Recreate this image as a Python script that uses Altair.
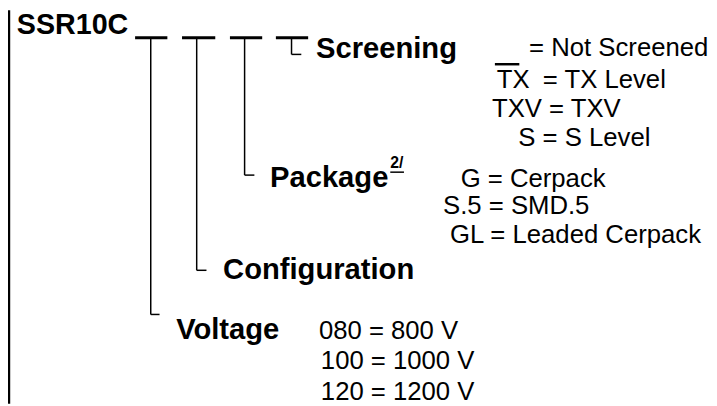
import altair as alt
import pandas as pd

# ---- content (reference pixel layout, 717 x 406) ----
part_text = ["SSR10C"]
part_x = [9]
part_y = [29]

field_names = ["Screening", "Package", "Configuration", "Voltage"]
field_x = [315, 268, 220, 172]
field_y = [54, 185, 279, 340]

note_text = ["2/"]
note_x = [391]
note_y = [166]

option_text = [
    "= Not Screened", "TX", "= TX Level", "TXV = TXV", "S = S Level",
    "G = Cerpack", "S.5 = SMD.5", "GL = Leaded Cerpack",
    "080 = 800 V", "100 = 1000 V", "120 = 1200 V",
]
option_x = [533, 500, 547, 495, 522, 463, 445, 452, 318, 320, 320]
option_y = [52, 84, 84, 114, 143, 185, 213, 242, 340, 371, 402]

# blanks of the part number (thick bars) + the "not screened" blank + note underline
blank_x1 = [130, 178, 227, 274, 498, 391]
blank_x2 = [163, 212, 260, 307, 523, 405]
blank_y = [33, 33, 33, 33, 60, 170]
blank_w = [3, 3, 3, 3, 2.5, 1.5]

# leader lines (vertical then short horizontal foot) + left border
lead_x1 = [146, 146, 193, 193, 242, 242, 290, 290, 1]
lead_x2 = [146, 155, 193, 203, 242, 252, 290, 300, 1]
lead_y1 = [33, 315, 33, 270, 33, 173, 33, 50, 5]
lead_y2 = [315, 315, 270, 270, 173, 173, 50, 50, 406]
lead_w = [1.5, 1.5, 1.5, 1.5, 1.5, 1.5, 1.5, 1.5, 2.5]

FONT = "Liberation Sans"
xs = alt.Scale(domain=[0, 717], range=[0, 709], nice=False, zero=False)
ys = alt.Scale(domain=[5, 406], range=[0, 398], nice=False, zero=False)


def text_layer(texts, xv, yv, size, weight):
    df = pd.DataFrame({"t": texts, "x": xv, "y": yv})
    return alt.Chart(df).mark_text(
        font=FONT, fontSize=size, fontWeight=weight, align="left",
        baseline="alphabetic", color="black"
    ).encode(
        x=alt.X("x:Q", scale=xs, axis=None),
        y=alt.Y("y:Q", scale=ys, axis=None),
        text="t:N",
    )


def rule_layer(x1, x2, y1, y2, w):
    df = pd.DataFrame({"x": x1, "x2": x2, "y": y1, "y2": y2, "w": w})
    return alt.Chart(df).mark_rule(color="black", strokeCap="butt").encode(
        x=alt.X("x:Q", scale=xs, axis=None),
        x2="x2:Q",
        y=alt.Y("y:Q", scale=ys, axis=None),
        y2="y2:Q",
        strokeWidth=alt.StrokeWidth("w:Q", scale=None, legend=None),
    )


chart = alt.layer(
    rule_layer(lead_x1, lead_x2, lead_y1, lead_y2, lead_w),
    rule_layer(blank_x1, blank_x2, blank_y, blank_y, blank_w),
    text_layer(part_text, part_x, part_y, 29, "bold"),
    text_layer(field_names, field_x, field_y, 29.5, "bold"),
    text_layer(note_text, note_x, note_y, 16, "bold"),
    text_layer(option_text, option_x, option_y, 26, "normal"),
).properties(
    width=709, height=398, padding=0,
    autosize=alt.AutoSizeParams(type="none"),
).configure_view(stroke=None)

chart.save("out.html", embed_options={"renderer": "svg", "actions": False})
